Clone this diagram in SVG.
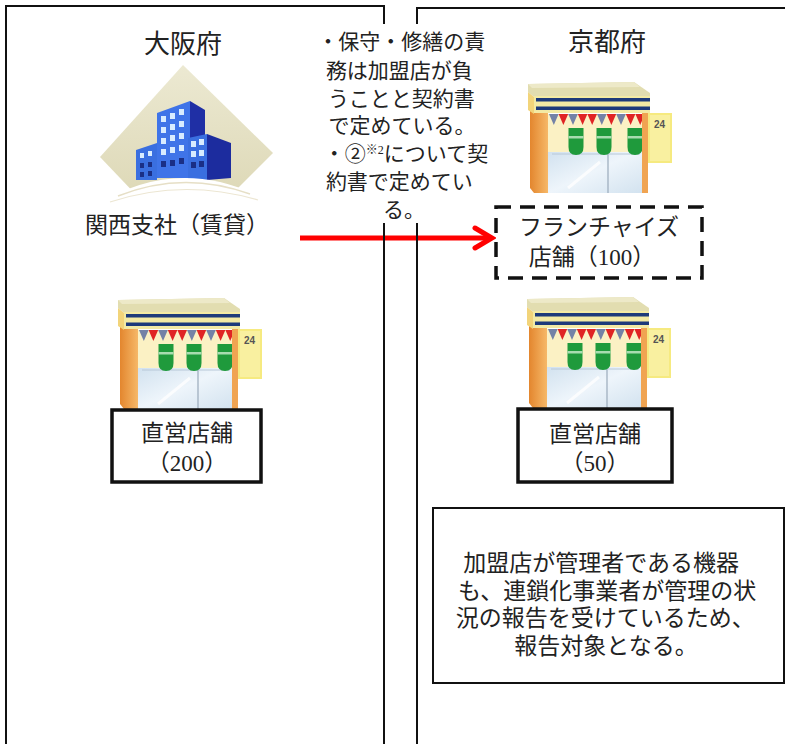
<svg xmlns="http://www.w3.org/2000/svg" width="785" height="744" viewBox="0 0 785 744">
<style>
  .t { font-family: "Liberation Serif", "Noto Sans CJK JP", serif; fill: #222; text-anchor: middle; }
  .panel { fill: none; stroke: #111; stroke-width: 2; }
  .box { fill: #fff; stroke: #111; stroke-width: 3.5; }
  .dash { fill: #fff; stroke: #111; stroke-width: 3.5; stroke-dasharray: 15 9; }
  .note { fill: #fff; stroke: #111; stroke-width: 2; }
  .arrow { fill: none; stroke: #ff0000; stroke-width: 5; }
  .win { fill: #d8ecff; }
  .wind { fill: #1a2f86; }
</style>
<defs>
  <linearGradient id="wallG" x1="0" y1="0" x2="1" y2="0">
    <stop offset="0" stop-color="#e3862e"/>
    <stop offset="1" stop-color="#f6b868"/>
  </linearGradient>
  <linearGradient id="glassG" x1="0" y1="0" x2="1" y2="1">
    <stop offset="0" stop-color="#cfe0ee"/>
    <stop offset="0.5" stop-color="#eef5fb"/>
    <stop offset="1" stop-color="#d2e2ef"/>
  </linearGradient>
  <linearGradient id="diaG" x1="0" y1="0" x2="0" y2="1">
    <stop offset="0" stop-color="#ece9d2"/>
    <stop offset="1" stop-color="#ddd8b6"/>
  </linearGradient>
  <marker id="arrowHead" markerUnits="userSpaceOnUse" markerWidth="24" markerHeight="28" viewBox="0 0 24 28" refX="20" refY="14" orient="auto">
    <path d="M3,4 L20,14 L3,24" fill="none" stroke="#ff0000" stroke-width="5" stroke-linecap="round" stroke-linejoin="miter"/>
  </marker>
  <g id="store">
    <!-- sign -->
    <rect x="120" y="31" width="24" height="50" fill="#f6ea80"/>
    <rect x="122" y="33" width="20" height="46" fill="#f9f0a0"/>
    <text x="131.5" y="46" font-family="Liberation Sans, sans-serif" font-size="10" font-weight="bold" fill="#555" text-anchor="middle">24</text>
    <!-- glass -->
    <rect x="20" y="66" width="96" height="45" fill="url(#glassG)"/>
    <line x1="80" y1="70" x2="80" y2="111" stroke="#9aaabb" stroke-width="1.2"/>
    <line x1="40" y1="106" x2="72" y2="80" stroke="#ffffff" stroke-width="3" opacity="0.8"/>
    <line x1="24" y1="72" x2="112" y2="72" stroke="#b8c8d8" stroke-width="1"/>
    <!-- awning background -->
    <rect x="20" y="32" width="96" height="38" fill="#fbf1c4"/>
    <!-- green awnings -->
    <path d="M40.5,46 H55.5 V65 Q55.5,73 48,73 Q40.5,73 40.5,65 Z" fill="#1f9a3c"/>
    <path d="M68.5,46 H83.5 V65 Q83.5,73 76,73 Q68.5,73 68.5,65 Z" fill="#1f9a3c"/>
    <path d="M99.5,46 H114.5 V65 Q114.5,73 107,73 Q99.5,73 99.5,65 Z" fill="#1f9a3c"/>
    <rect x="40.5" y="54" width="15" height="2.5" fill="#a8dcb0"/>
    <rect x="68.5" y="54" width="15" height="2.5" fill="#a8dcb0"/>
    <rect x="99.5" y="54" width="15" height="2.5" fill="#a8dcb0"/>
    <!-- pennants -->
    <polygon points="21,32 30.6,32 25.8,43" fill="#7482a6"/>
    <polygon points="30.6,32 40.2,32 35.4,43" fill="#e02424"/>
    <polygon points="40.2,32 49.8,32 45,43" fill="#7482a6"/>
    <polygon points="49.8,32 59.4,32 54.6,43" fill="#e02424"/>
    <polygon points="59.4,32 69,32 64.2,43" fill="#e02424"/>
    <polygon points="69,32 78.6,32 73.8,43" fill="#7482a6"/>
    <polygon points="78.6,32 88.2,32 83.4,43" fill="#e02424"/>
    <polygon points="88.2,32 97.8,32 93,43" fill="#7482a6"/>
    <polygon points="97.8,32 107.4,32 102.6,43" fill="#e02424"/>
    <polygon points="107.4,32 117,32 112.2,43" fill="#e02424"/>
    <!-- right pillar -->
    <rect x="114" y="30" width="6" height="81" fill="#f0a452"/>
    <!-- left wall -->
    <polygon points="2,26 20,30 20,111 6,111 2,106" fill="url(#wallG)"/>
    <!-- roof -->
    <polygon points="0,2 106,0 122,11 122,15 6,15 0,10" fill="#e2ddb0"/>
    <polygon points="0,2 106,0 112,5 4,6" fill="#ede9c8"/>
    <polygon points="0,10 6,15 6,32 0,28" fill="#f2d47a"/>
    <!-- stripe band -->
    <rect x="6" y="14" width="116" height="17" fill="#f3eaa4"/>
    <rect x="8" y="16" width="114" height="3.5" fill="#1d3a7a"/>
    <rect x="8" y="24.5" width="114" height="3.5" fill="#1d3a7a"/>
  </g>
</defs>

<!-- connectors -->
<g id="connectors">
  <line class="arrow" x1="300" y1="238" x2="492" y2="238" marker-end="url(#arrowHead)"/>
</g>

<!-- region panels -->
<g id="osaka-panel">
  <path class="panel" d="M6,744 V6 H384 V744"/>
  <text class="t" x="183" y="53" font-size="26">大阪府</text>
</g>
<g id="kyoto-panel">
  <path class="panel" d="M417,744 V8 H785"/>
  <text class="t" x="607" y="51" font-size="26">京都府</text>
</g>

<!-- note text box (no border) -->
<g id="contract-note">
  <rect x="303" y="24" width="192" height="199" fill="#fff"/>
  <text class="t" font-size="21">
    <tspan x="404" y="49">・保守・修繕の責</tspan>
    <tspan x="402" y="78">務は加盟店が負</tspan>
    <tspan x="404" y="106">うことと契約書</tspan>
    <tspan x="402" y="133">で定めている。</tspan>
  </text>
  <text class="t" font-size="21" x="406" y="161">・②<tspan font-size="12" dy="-7">※2</tspan><tspan dy="7">について契</tspan></text>
  <text class="t" font-size="21">
    <tspan x="402" y="189">約書で定めてい</tspan>
    <tspan x="404" y="217">る。</tspan>
  </text>
</g>

<!-- Kansai branch -->
<g id="kansai-branch">
  <polygon points="183,65 273,153 226,200 141,200 100,157" fill="url(#diaG)"/>
  <!-- tall building -->
  <polygon points="157,113 190,101 190,178 157,178" fill="#3f74e8"/>
  <polygon points="190,101 205,110 205,178 190,178" fill="#1f2fa5"/>
  <rect class="win" x="161" y="116" width="5" height="6"/>
  <rect class="win" x="170" y="113" width="5" height="6"/>
  <rect class="win" x="179" y="109" width="5" height="6"/>
  <rect class="win" x="161" y="127" width="5" height="6"/>
  <rect class="win" x="170" y="124" width="5" height="6"/>
  <rect class="win" x="179" y="121" width="5" height="6"/>
  <rect class="win" x="161" y="138" width="5" height="6"/>
  <rect class="win" x="170" y="135" width="5" height="6"/>
  <rect class="win" x="179" y="133" width="5" height="6"/>
  <rect class="win" x="161" y="149" width="5" height="6"/>
  <rect class="win" x="170" y="147" width="5" height="6"/>
  <rect class="win" x="179" y="145" width="5" height="6"/>
  <rect class="wind" x="161" y="161" width="5" height="6"/>
  <rect class="wind" x="170" y="160" width="5" height="6"/>
  <rect class="wind" x="179" y="158" width="5" height="6"/>
  <!-- left building -->
  <polygon points="136,150 157,143 157,180 136,180" fill="#3a6fe0"/>
  <rect class="win" x="140" y="153" width="4" height="5"/>
  <rect class="win" x="148" y="151" width="4" height="5"/>
  <rect class="wind" x="140" y="163" width="4" height="5"/>
  <rect class="wind" x="148" y="162" width="4" height="5"/>
  <rect class="wind" x="140" y="172" width="4" height="5"/>
  <rect class="wind" x="148" y="171" width="4" height="5"/>
  <!-- right building -->
  <polygon points="188,138 207,134 207,180 188,180" fill="#3a6fe0"/>
  <polygon points="207,134 231,143 231,178 207,180" fill="#1c2c9e"/>
  <rect class="win" x="191" y="141" width="5" height="6"/>
  <rect class="win" x="199" y="139" width="5" height="6"/>
  <rect class="win" x="191" y="151" width="5" height="6"/>
  <rect class="win" x="199" y="150" width="5" height="6"/>
  <rect class="wind" x="191" y="162" width="5" height="6"/>
  <rect class="wind" x="199" y="161" width="5" height="6"/>
  <!-- white ground arc -->
  <path d="M95,206 Q183,150 278,206 Z" fill="#ffffff"/>
  <path d="M118,196 Q183,170 250,194" fill="none" stroke="#e6dfc6" stroke-width="1.5"/>
  <path d="M110,202 Q183,178 258,200" fill="none" stroke="#ece6d2" stroke-width="1.2"/>
  <text class="t" x="177" y="233" font-size="23">関西支社（賃貸）</text>
</g>

<!-- Franchise stores -->
<g id="franchise-stores">
  <use href="#store" x="528" y="82"/>
  <rect class="dash" x="496" y="207" width="206" height="71"/>
  <text class="t" x="599" y="235" font-size="23">フランチャイズ</text>
  <text class="t" x="592" y="265" font-size="23">店舗（100）</text>
</g>

<!-- Osaka direct stores -->
<g id="osaka-direct-stores">
  <use href="#store" x="118" y="298"/>
  <rect class="box" x="112" y="410" width="149" height="72"/>
  <text class="t" x="187" y="441" font-size="23">直営店舗</text>
  <text class="t" x="187" y="471" font-size="23">（200）</text>
</g>

<!-- Kyoto direct stores -->
<g id="kyoto-direct-stores">
  <use href="#store" x="527" y="297"/>
  <rect class="box" x="518" y="409" width="154" height="73"/>
  <text class="t" x="595" y="442" font-size="23">直営店舗</text>
  <text class="t" x="595" y="471" font-size="23">（50）</text>
</g>

<!-- Reporting note -->
<g id="reporting-note">
  <rect class="note" x="433" y="508" width="351" height="175"/>
  <text class="t" font-size="23">
    <tspan x="604" y="571">加盟店が管理者である機器</tspan>
    <tspan x="610" y="599">も、連鎖化事業者が管理の状</tspan>
    <tspan x="608" y="626">況の報告を受けているため、</tspan>
    <tspan x="606" y="654">報告対象となる。</tspan>
  </text>
</g>
</svg>
